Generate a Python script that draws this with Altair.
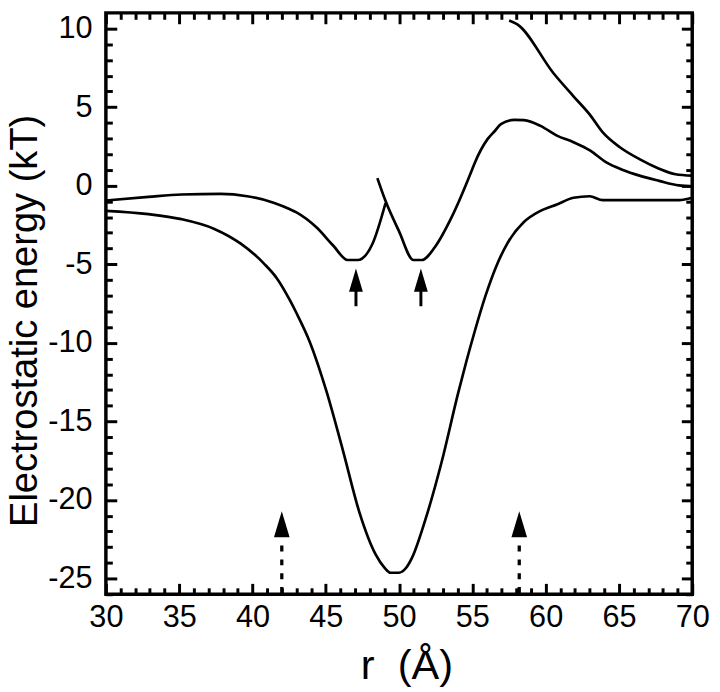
import altair as alt
import pandas as pd

# ---- curve data (r in Å, energy in kT) ----
a1_x = [30, 32.9, 35.15, 37.84, 39.64, 41.44, 42.56, 43.0, 44.36, 45.49, 46.5, 47.17, 48.19, 49.08]
a1_y = [-0.94, -0.71, -0.56, -0.52, -0.67, -1.08, -1.5, -1.7, -2.65, -3.79, -4.73, -4.73, -3.69, -1.1]

a2_x = [48.52, 49.08, 49.98, 50.99, 51.55, 52.45, 53.58, 54.93, 55.15, 56.05, 56.5, 56.95, 57.85,
        58.52, 59.65, 60.77, 61.9, 63.02, 64.14, 65.27, 66.4, 67.74, 69.09, 70]
a2_y = [0.48, -0.98, -2.86, -4.73, -4.73, -3.9, -2.02, 0.9, 1.42, 2.98, 3.45, 3.92, 4.19,
        4.17, 3.81, 3.19, 2.77, 2.25, 1.48, 1.0, 0.64, 0.31, 0.02, -0.04]

b_x = [30, 32.9, 35.15, 37.4, 39.2, 40.77, 41.67, 42.56, 43.0, 43.91, 45.04, 46.16, 47.29, 48.41,
       49.0, 49.42, 49.98, 50.5, 50.88, 51.78, 52.9, 54.03, 54.59, 55.15, 55.9, 56.6, 57.4, 58.5, 59.65,
       60.77, 61.9, 63.0, 63.9, 65.27, 67.5, 69.1, 70]
b_y = [-1.6, -1.81, -2.13, -2.75, -3.69, -4.94, -5.9, -7.3, -8.1, -9.94, -13.06, -16.81, -20.77, -23.48,
       -24.3, -24.63, -24.63, -24.3, -23.69, -21.3, -17.6, -13.2, -11.19, -9.31, -7.0, -5.2, -3.65, -2.33, -1.6,
       -1.19, -0.77, -0.67, -0.92, -0.92, -0.92, -0.92, -0.77]

c_x = [57.51, 58.07, 60.55, 61.9, 63.0, 63.9, 65.04, 66.4, 67.7, 68.86, 70]
c_y = [10.52, 10.27, 7.14, 5.69, 4.54, 3.39, 2.46, 1.69, 1.1, 0.73, 0.64]

# ---- arrows ----
solid_x = [47.06, 51.49]
solid_head_y = [-6.01, -6.01]
solid_stem_top = [-6.7, -6.7]
solid_stem_bot = [-7.67, -7.67]

dotted_x = [42.0, 58.2]
dotted_head_y = [-21.55, -21.55]
dotted_stem_top = [-22.9, -22.9]
dotted_stem_bot = [-26.0, -26.0]

# ---- axes ----
x_domain = [30, 70]
y_domain = [-26, 11]
x_labels = [30, 35, 40, 45, 50, 55, 60, 65, 70]
y_labels = [-25, -20, -15, -10, -5, 0, 5, 10]
x_minor = [v for v in range(30, 71) if v % 5 != 0]
y_minor = [v for v in range(-26, 11) if v % 5 != 0]

W, H = 593, 588
FONT = "Liberation Sans"

rows = []
for name, xs_, ys_ in [("A1", a1_x, a1_y), ("A2", a2_x, a2_y), ("B", b_x, b_y), ("C", c_x, c_y)]:
    for xv, yv in zip(xs_, ys_):
        rows.append({"series": name, "r": xv, "E": yv})
curves = pd.DataFrame(rows)

solid = pd.DataFrame({"r": solid_x, "head": solid_head_y, "top": solid_stem_top, "bot": solid_stem_bot})
dotted = pd.DataFrame({"r": dotted_x, "head": dotted_head_y, "top": dotted_stem_top, "bot": dotted_stem_bot})

xs = alt.Scale(domain=x_domain, nice=False, zero=False, padding=0)
ys = alt.Scale(domain=y_domain, nice=False, zero=False, padding=0)

label_x_axis = alt.Axis(values=x_labels, ticks=False, tickSize=0, domain=False, grid=False,
                        labelFontSize=31, labelPadding=9, labelFont=FONT, labelColor="black",
                        labelFlush=False, labelOverlap=False,
                        labelExpr="'' + datum.value",
                        title="r\u00a0\u00a0(Å)", titleFontSize=42, titleFont=FONT,
                        titleFontWeight="normal", titleColor="black",
                        titleX=304, titleY=85, titleBaseline="alphabetic", titleAlign="center")
label_y_axis = alt.Axis(values=y_labels, ticks=False, tickSize=0, domain=False, grid=False,
                        labelFontSize=31, labelPadding=14, labelFont=FONT, labelColor="black",
                        labelFlush=False, labelOverlap=False,
                        labelExpr="'' + datum.value",
                        title="Electrostatic energy (kT)", titleFontSize=38.5, titleFont=FONT,
                        titleFontWeight="normal", titleColor="black",
                        titleX=-70, titleY=311, titleBaseline="alphabetic", titleAlign="center",
                        titleAngle=270)


def tick_axis(orient, offset, values, size):
    return alt.Axis(orient=orient, offset=offset, values=values, labels=False,
                    domain=False, grid=False, ticks=True, tickSize=size, tickWidth=3,
                    tickColor="black", title=None)


MAJOR, MINOR = 11, 6.5

curve_layer = alt.Chart(curves).mark_line(color="black", strokeWidth=2.7, interpolate="monotone").encode(
    x=alt.X("r:Q", scale=xs, axis=label_x_axis),
    y=alt.Y("E:Q", scale=ys, axis=label_y_axis),
    detail="series:N",
)

# bottom / left major ticks (pointing inward)
solid_stems = alt.Chart(solid).mark_rule(color="black", strokeWidth=3).encode(
    x=alt.X("r:Q", scale=xs, axis=tick_axis("top", -H, x_labels, MAJOR)),
    y=alt.Y("top:Q", scale=ys, axis=tick_axis("right", -W, y_labels, MAJOR)),
    y2="bot:Q",
)

# bottom / left minor ticks
dotted_stems = alt.Chart(dotted).mark_rule(color="black", strokeWidth=3.3, strokeDash=[6, 8]).encode(
    x=alt.X("r:Q", scale=xs, axis=tick_axis("top", -H, x_minor, MINOR)),
    y=alt.Y("top:Q", scale=ys, axis=tick_axis("right", -W, y_minor, MINOR)),
    y2="bot:Q",
)

HEAD = "M0,-1L0.6,1L-0.6,1Z"
# top / right major ticks
solid_heads = alt.Chart(solid).mark_point(shape=HEAD, filled=True, size=543, color="black",
                                          opacity=1, strokeWidth=0).encode(
    x=alt.X("r:Q", scale=xs, axis=tick_axis("bottom", -H, x_labels, MAJOR)),
    y=alt.Y("head:Q", scale=ys, axis=tick_axis("left", -W, y_labels, MAJOR)),
)
# top / right minor ticks
dotted_heads = alt.Chart(dotted).mark_point(shape=HEAD, filled=True, size=692, color="black",
                                            opacity=1, strokeWidth=0).encode(
    x=alt.X("r:Q", scale=xs, axis=tick_axis("bottom", -H, x_minor, MINOR)),
    y=alt.Y("head:Q", scale=ys, axis=tick_axis("left", -W, y_minor, MINOR)),
)

chart = alt.layer(curve_layer, solid_stems, dotted_stems, solid_heads, dotted_heads).resolve_axis(
    x="independent", y="independent"
).properties(
    width=W, height=H,
    autosize=alt.AutoSizeParams(type="none"),
    padding={"left": 99, "top": 1, "right": 20, "bottom": 100},
).configure(
    font=FONT, background="white",
    view=alt.ViewConfig(stroke="black", strokeWidth=3.5),
)

chart.save("out.html", embed_options={"renderer": "svg", "actions": False})
